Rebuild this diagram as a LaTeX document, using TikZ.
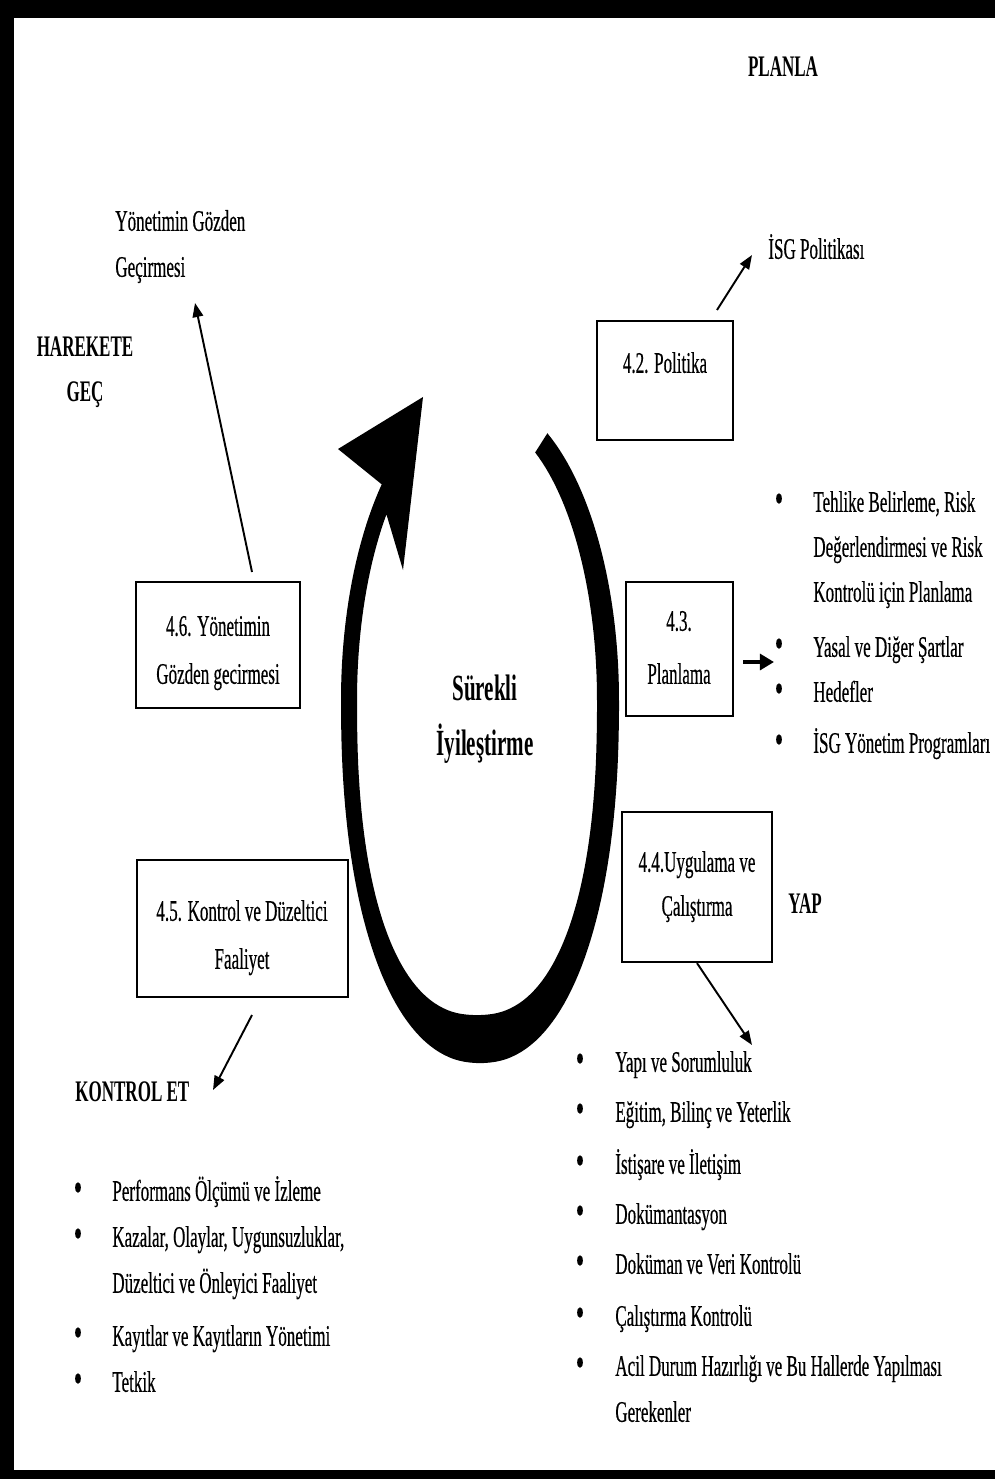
\documentclass[tikz,border=0pt]{standalone}
\usepackage{fontspec}
\setmainfont{Liberation Serif}[FakeStretch=0.57, UprightFeatures={FakeBold=0.4}]
\usetikzlibrary{arrows.meta,fit}
\begin{document}
\begin{tikzpicture}[x=0.02cm,y=-0.02cm,
  box/.style={draw, line width=1.3pt, inner sep=0pt},
  txt/.style={inner sep=0pt, text height=12pt, text depth=2pt, font=\fontsize{17}{27}\selectfont},
  lt/.style={txt, anchor=west},
  bul/.style={inner sep=0pt, font=\fontsize{24}{27}\selectfont},
  hd/.style={txt, font=\fontsize{17}{27}\selectfont\bfseries},
  hdl/.style={hd, anchor=west},
  big/.style={txt, text height=15pt, text depth=3pt, font=\fontsize{21}{30}\selectfont\bfseries},
  arr/.style={line width=1.1pt, -{Triangle[length=8pt,width=6pt]}},
  arrbig/.style={line width=2.2pt, -{Triangle[length=8pt,width=9pt]}},
]
\useasboundingbox (0,0) rectangle (995,1479);
% frame
\fill (0,0) rectangle (995,18);
\fill (0,0) rectangle (14,1479);
\fill (0,1470) rectangle (995,1479);

% circular arrow
\fill plot[domain=299:585, samples=144, variable=\t]
   ({480+139*sign(cos(\t))*pow(abs(cos(\t)),((sin(\t)>0) ? 0.9 : 1))},
    {700+((sin(\t)>0) ? 363*pow(abs(sin(\t)),0.9) : -305*abs(sin(\t)))})
  -- (338,449) -- (423,397) -- (403,570)
  -- plot[domain=581:299, samples=142, variable=\t]
   ({477+120*sign(cos(\t))*pow(abs(cos(\t)),((sin(\t)>0) ? 0.85 : 1))},
    {700+((sin(\t)>0) ? 315*pow(abs(sin(\t)),0.85) : -283*abs(sin(\t)))})
  -- cycle;

% centre text
\node[big] (sur1) at (485,690) {Sürekli};
\node[big] (sur2) at (485,745) {İyileştirme};

% headings
\node[hd] (planla) at (783,68) {PLANLA};
\node[hd] (hg1) at (85,348) {HAREKETE};
\node[hd] (hg2) at (85,393) {GEÇ};
\node[hd] (yap) at (805,905) {YAP};
\node[hdl] (kontrol) at (75,1093) {KONTROL ET};

% boxes
\node[box, fit={(597,321) (733,440)}] (b42) {};
\node[box, fit={(626,582) (733,716)}] (b43) {};
\node[box, fit={(622,812) (772,962)}] (b44) {};
\node[box, fit={(137,860) (348,997)}] (b45) {};
\node[box, fit={(136,582) (300,708)}] (b46) {};

% box texts
\node[txt] (t42) at (665,364) {4.2. Politika};
\node[txt] (t43a) at (679,622) {4.3.};
\node[txt] (t43b) at (679,675) {Planlama};
\node[txt] (t44a) at (697,863) {4.4.Uygulama ve};
\node[txt] (t44b) at (697,907) {Çalıştırma};
\node[txt] (t45a) at (242,912) {4.5. Kontrol ve Düzeltici};
\node[txt] (t45b) at (242,960) {Faaliyet};
\node[txt] (t46a) at (218,627) {4.6. Yönetimin};
\node[txt] (t46b) at (218,675) {Gözden gecirmesi};

% outer labels
\node[lt] (isg) at (768,250) {İSG Politikası};
\node[lt] (ygg1) at (115,222) {Yönetimin Gözden};
\node[lt] (ygg2) at (115,268) {Geçirmesi};

% PLANLA list
\node[bul] (pb1) at (779,503) {\textbullet};
\node[bul] (pb2) at (779,648) {\textbullet};
\node[bul] (pb3) at (779,693) {\textbullet};
\node[bul] (pb4) at (779,744) {\textbullet};
\node[lt] (pl1) at (813,503) {Tehlike Belirleme, Risk};
\node[lt] (pl2) at (813,548) {Değerlendirmesi ve Risk};
\node[lt] (pl3) at (813,593) {Kontrolü için Planlama};
\node[lt] (pl4) at (813,648) {Yasal ve Diğer Şartlar};
\node[lt] (pl5) at (813,693) {Hedefler};
\node[lt] (pl6) at (813,744) {İSG Yönetim Programları};

% YAP list
\node[bul] (yb1) at (580,1063) {\textbullet};
\node[bul] (yb2) at (580,1113) {\textbullet};
\node[bul] (yb3) at (580,1165) {\textbullet};
\node[bul] (yb4) at (580,1215) {\textbullet};
\node[bul] (yb5) at (580,1265) {\textbullet};
\node[bul] (yb6) at (580,1317) {\textbullet};
\node[bul] (yb7) at (580,1367) {\textbullet};
\node[lt] (yl1) at (615,1063) {Yapı ve Sorumluluk};
\node[lt] (yl2) at (615,1113) {Eğitim, Bilinç ve Yeterlik};
\node[lt] (yl3) at (615,1165) {İstişare ve İletişim};
\node[lt] (yl4) at (615,1215) {Dokümantasyon};
\node[lt] (yl5) at (615,1265) {Doküman ve Veri Kontrolü};
\node[lt] (yl6) at (615,1317) {Çalıştırma Kontrolü};
\node[lt] (yl7) at (615,1367) {Acil Durum Hazırlığı ve Bu Hallerde Yapılması};
\node[lt] (yl8) at (615,1413) {Gerekenler};

% KONTROL list
\node[bul] (kb1) at (78,1192) {\textbullet};
\node[bul] (kb2) at (78,1238) {\textbullet};
\node[bul] (kb3) at (78,1337) {\textbullet};
\node[bul] (kb4) at (78,1383) {\textbullet};
\node[lt] (kl1) at (112,1192) {Performans Ölçümü ve İzleme};
\node[lt] (kl2) at (112,1238) {Kazalar, Olaylar, Uygunsuzluklar,};
\node[lt] (kl3) at (112,1284) {Düzeltici ve Önleyici Faaliyet};
\node[lt] (kl4) at (112,1337) {Kayıtlar ve Kayıtların Yönetimi};
\node[lt] (kl5) at (112,1383) {Tetkik};

% connectors
\coordinate (a2s) at (717,310);
\coordinate (a2e) at (752,255);
\draw[arr] (a2s) -- (a2e);
\coordinate (a3s) at (743,662);
\coordinate (a3e) at (774,662);
\draw[arrbig] (a3s) -- (a3e);
\coordinate (a4e) at (752,1045);
\draw[arr] (b44.south) -- (a4e);
\coordinate (a5s) at (252,1015);
\coordinate (a5e) at (213,1090);
\draw[arr] (a5s) -- (a5e);
\coordinate (a6s) at (252,572);
\coordinate (a6e) at (195,303);
\draw[arr] (a6s) -- (a6e);
\end{tikzpicture}
\end{document}
